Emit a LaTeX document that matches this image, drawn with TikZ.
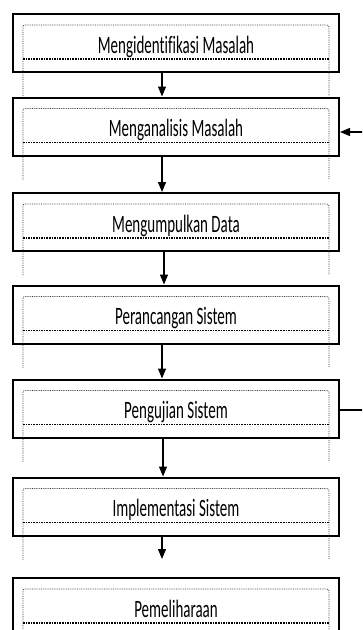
\documentclass[tikz,border=0pt]{standalone}
\usepackage{fontspec}
\setmainfont{Carlito}[FakeStretch=0.6, Ligatures=CommonOff]
\usetikzlibrary{arrows.meta,calc}
\begin{document}
\begin{tikzpicture}[x=1pt, y=1pt, font=\fontsize{25}{27}\selectfont,
  stage/.style={draw, line width=2pt, minimum width=326pt, minimum height=58pt,
                inner sep=0pt, text height=27pt, text depth=7pt},
  frame/.style={densely dotted, black!80, line width=0.8pt, rounded corners=2pt},
  uline/.style={densely dotted, black, line width=1.6pt},
  arrow/.style={-{Triangle[length=10pt,width=8pt]}, line width=1.2pt}
]
  \useasboundingbox (0,0) rectangle (362,-630);
  \clip (0,0) rectangle (362,-630);
  \node[stage] (s1) at (176,-43)    {Mengidentifikasi Masalah};
  \node[stage] (s2) at (176,-126.5) {Menganalisis Masalah};
  \node[stage] (s3) at (176,-222)   {Mengumpulkan Data};
  \node[stage] (s4) at (176,-314.5) {Perancangan Sistem};
  \node[stage] (s5) at (176,-408.5) {Pengujian Sistem};
  \node[stage] (s6) at (176,-506.5) {Implementasi Sistem};
  \node[stage] (s7) at (176,-607)   {Pemeliharaan};
  \foreach \s in {s1,s2,s3,s4,s5,s6,s7}{
    \draw[frame] ($(\s.south west)+(11,-23)$) |- ($(\s.north east)+(-11,-12)$)
                 -- ($(\s.south east)+(-11,-23)$);
    \draw[uline] ($(\s.south west)+(11,14)$) -- ($(\s.south east)+(-11,14)$);
  }
  \draw[arrow] ([xshift=-14pt]s1.south) -- ([xshift=-14pt]s2.north);
  \draw[arrow] ([xshift=-14pt]s2.south) -- ([xshift=-14pt]s3.north);
  \draw[arrow] ([xshift=-12pt]s3.south) -- ([xshift=-12pt]s4.north);
  \draw[arrow] ([xshift=-14pt]s4.south) -- ([xshift=-14pt]s5.north);
  \draw[arrow] ([xshift=-13pt]s5.south) -- ([xshift=-13pt]s6.north);
  \draw[arrow, shorten >=18pt] ([xshift=-14pt]s6.south) -- ([xshift=-14pt]s7.north);
  \draw[arrow] ([yshift=-1.5pt]s5.east) -- ++(40,0) |- ([yshift=-5.5pt]s2.east);
\end{tikzpicture}
\end{document}
